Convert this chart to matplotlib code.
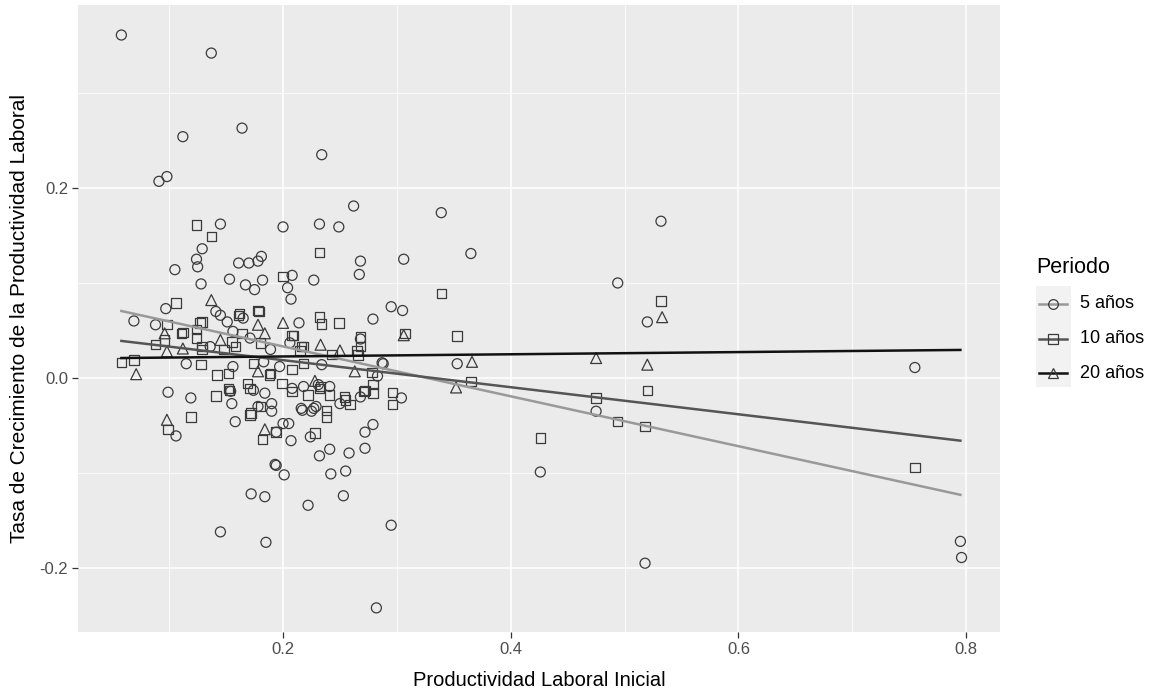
import matplotlib as mpl; mpl.use("Agg")
import matplotlib.pyplot as plt
from matplotlib.lines import Line2D
from matplotlib.patches import Rectangle

plt.rcParams.update({"font.family": ["Liberation Sans", "DejaVu Sans"]})

# 5 años (circles)
x5 = [0.058, 0.137, 0.112, 0.164, 0.234, 0.091, 0.098, 0.262, 0.145, 0.129, 0.124, 0.125, 0.105, 0.161,
      0.170, 0.178, 0.181, 0.182, 0.153, 0.128, 0.167, 0.175, 0.097, 0.069, 0.088, 0.165, 0.339, 0.200,
      0.232, 0.249, 0.268, 0.267, 0.306, 0.208, 0.227, 0.204, 0.207, 0.295, 0.305, 0.279, 0.214, 0.532,
      0.365, 0.494, 0.520, 0.353, 0.755, 0.475, 0.426, 0.518, 0.795, 0.796, 0.201, 0.242, 0.255, 0.172,
      0.184, 0.222, 0.253, 0.145, 0.185, 0.295, 0.282, 0.115, 0.099, 0.119, 0.155, 0.106, 0.158, 0.193,
      0.156, 0.174, 0.184, 0.190, 0.178, 0.288, 0.304, 0.268, 0.250, 0.229, 0.225, 0.217, 0.241, 0.218,
      0.190, 0.200, 0.205, 0.207, 0.224, 0.241, 0.232, 0.258, 0.272, 0.272, 0.279, 0.194, 0.183, 0.197,
      0.234, 0.287, 0.283, 0.231, 0.227, 0.268, 0.141, 0.145, 0.151, 0.208, 0.216, 0.194, 0.156, 0.171,
      0.189, 0.206, 0.136, 0.154]
y5 = [0.361, 0.342, 0.254, 0.263, 0.235, 0.207, 0.212, 0.181, 0.162, 0.136, 0.125, 0.117, 0.114, 0.121,
      0.121, 0.123, 0.128, 0.103, 0.104, 0.099, 0.098, 0.093, 0.073, 0.060, 0.056, 0.063, 0.174, 0.159,
      0.162, 0.159, 0.123, 0.109, 0.125, 0.108, 0.103, 0.095, 0.083, 0.075, 0.071, 0.062, 0.058, 0.165,
      0.131, 0.100, 0.059, 0.015, 0.011, -0.035, -0.099, -0.195, -0.172, -0.189, -0.102, -0.101, -0.098, -0.122,
      -0.125, -0.134, -0.124, -0.162, -0.173, -0.155, -0.242, 0.015, -0.015, -0.021, -0.027, -0.061, -0.046, -0.091,
      0.012, -0.013, -0.016, -0.027, -0.030, 0.015, -0.021, -0.020, -0.027, -0.030, -0.035, -0.034, -0.009, -0.009,
      -0.035, -0.048, -0.048, -0.066, -0.062, -0.075, -0.082, -0.079, -0.074, -0.057, -0.049, -0.092, 0.017, 0.012,
      0.014, 0.016, 0.002, -0.007, -0.032, 0.041, 0.070, 0.066, 0.059, -0.011, -0.032, -0.057, 0.049, 0.042,
      0.030, 0.037, 0.033, -0.014]

# 10 años (squares)
x10 = [0.124, 0.137, 0.106, 0.178, 0.161, 0.129, 0.098, 0.111, 0.124, 0.232, 0.200, 0.339, 0.232, 0.234,
       0.249, 0.208, 0.268, 0.307, 0.353, 0.532, 0.365, 0.475, 0.494, 0.518, 0.520, 0.426, 0.755, 0.058,
       0.069, 0.128, 0.141, 0.153, 0.119, 0.099, 0.182, 0.142, 0.152, 0.188, 0.169, 0.172, 0.296, 0.296,
       0.279, 0.279, 0.271, 0.254, 0.255, 0.259, 0.238, 0.238, 0.222, 0.233, 0.208, 0.199, 0.194, 0.228,
       0.189, 0.208, 0.268, 0.218, 0.243, 0.265, 0.266, 0.218, 0.278, 0.232, 0.241, 0.272, 0.162, 0.179,
       0.127, 0.209, 0.216, 0.174, 0.152, 0.171, 0.180, 0.171, 0.129, 0.155, 0.158, 0.164, 0.180, 0.148,
       0.215, 0.112, 0.124, 0.096, 0.088, 0.129]
y10 = [0.161, 0.149, 0.079, 0.071, 0.066, 0.059, 0.056, 0.047, 0.042, 0.132, 0.107, 0.089, 0.064, 0.057,
       0.058, 0.045, 0.043, 0.047, 0.044, 0.081, -0.004, -0.021, -0.046, -0.051, -0.013, -0.063, -0.094, 0.016,
       0.019, 0.014, -0.019, -0.013, -0.041, -0.054, -0.065, 0.003, 0.005, 0.003, -0.006, -0.037, -0.015, -0.028,
       -0.007, -0.016, -0.014, -0.020, -0.023, -0.028, -0.041, -0.034, -0.018, -0.009, -0.014, -0.006, -0.057, -0.058,
       0.005, 0.009, 0.033, 0.033, 0.025, 0.029, 0.024, 0.015, 0.006, -0.011, -0.018, -0.013, 0.068, 0.070,
       0.058, 0.045, 0.033, 0.015, -0.011, -0.011, -0.030, -0.039, 0.033, 0.038, 0.033, 0.047, 0.037, 0.030,
       0.029, 0.048, 0.051, 0.040, 0.035, 0.030]

# 20 años (triangles)
x20 = [0.137, 0.178, 0.200, 0.306, 0.533, 0.366, 0.475, 0.520, 0.352, 0.071, 0.098, 0.184, 0.178, 0.263,
       0.233, 0.250, 0.228, 0.145, 0.184, 0.096, 0.112, 0.098]
y20 = [0.082, 0.056, 0.058, 0.045, 0.064, 0.017, 0.021, 0.014, -0.010, 0.004, -0.044, -0.054, 0.007, 0.007,
       0.035, 0.029, -0.003, 0.040, 0.047, 0.047, 0.031, 0.028]

# fitted lines (endpoints)
fit_x = [0.058, 0.795]
fit5 = [0.0705, -0.123]
fit10 = [0.039, -0.066]
fit20 = [0.021, 0.0295]

periodos = ["5 años", "10 años", "20 años"]
line_cols = ["#999999", "#555555", "#111111"]
markers = ["o", "s", "^"]
msize = [52, 46, 62]

fig = plt.figure(figsize=(11.52, 6.91), dpi=100)
ax = fig.add_axes([78/1152, 1-632/691, 922/1152, 627/691])
ax.set_facecolor("#EBEBEB")
for s in ax.spines.values():
    s.set_visible(False)

ax.set_xlim(0.0199, 0.8298)
ax.set_ylim(-0.2674, 0.3926)
ax.set_xticks([0.2, 0.4, 0.6, 0.8])
ax.set_xticks([0.1, 0.3, 0.5, 0.7], minor=True)
ax.set_yticks([-0.2, 0.0, 0.2])
ax.set_yticks([-0.1, 0.1, 0.3], minor=True)
ax.set_xticklabels(["0.2", "0.4", "0.6", "0.8"])
ax.set_yticklabels(["-0.2", "0.0", "0.2"])
ax.grid(which="major", color="white", lw=1.1)
ax.grid(which="minor", color="white", lw=0.55)
ax.set_axisbelow(True)
ax.tick_params(which="major", length=4, width=0.9, color="#333333", labelsize=12, labelcolor="#4D4D4D", pad=3)
ax.tick_params(which="minor", length=0)

for xs, ys, mk, sz in [(x5, y5, "o", msize[0]), (x10, y10, "s", msize[1]), (x20, y20, "^", msize[2])]:
    ax.scatter(xs, ys, marker=mk, s=sz, facecolors="none", edgecolors="#3a3a3a", linewidths=0.9, zorder=3)

for fy, col in zip([fit5, fit10, fit20], line_cols):
    ax.plot(fit_x, fy, color=col, lw=1.8, zorder=4)

ax.set_xlabel("Productividad Laboral Inicial", fontsize=14.5, labelpad=10)
ax.set_ylabel("Tasa de Crecimiento de la Productividad Laboral", fontsize=15, labelpad=7.5)

# legend drawn by hand, ggplot style
W, H = 1152, 691
def fx(p): return p / W
def fy_(p): return 1 - p / H
fig.text(fx(1036), fy_(267), "Periodo", fontsize=15.5, va="center", ha="left")
fig.add_artist(Rectangle((fx(1036), fy_(387)), fx(35), 101/H, transform=fig.transFigure,
                         facecolor="#F2F2F2", edgecolor="none"))
for i, (lab, col, mk) in enumerate(zip(periodos, line_cols, markers)):
    yc = fy_(304 + i*34.5)
    fig.add_artist(Line2D([fx(1039), fx(1067)], [yc, yc], transform=fig.transFigure, color=col, lw=1.8))
    fig.add_artist(Line2D([fx(1053)], [yc], transform=fig.transFigure, marker=mk, markersize=7,
                          markerfacecolor="none", markeredgecolor="#3a3a3a", markeredgewidth=0.9, linestyle="none"))
    fig.text(fx(1080), yc, lab, fontsize=13, va="center", ha="left")

fig.savefig("out.png", dpi=100)
